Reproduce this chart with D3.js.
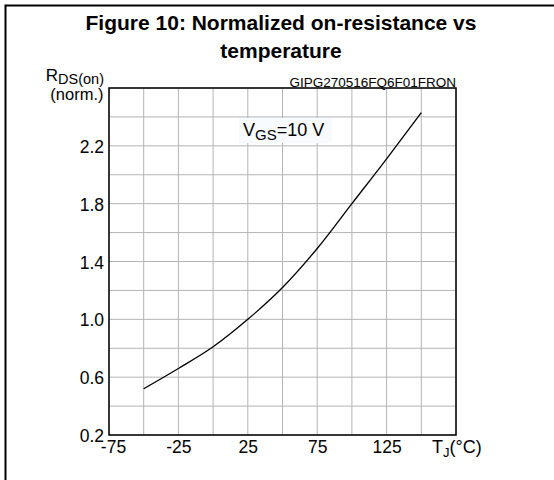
<!DOCTYPE html>
<html><head><meta charset="utf-8">
<script src="https://cdn.jsdelivr.net/npm/d3@7/dist/d3.min.js"></script>
<style>body{margin:0;background:#fff}svg{display:block}text{font-family:"Liberation Sans",Arial,sans-serif}</style>
</head><body>
<svg id="c" width="554" height="480"></svg>
<script>
const temps = [-50, -25, 0, 25, 50, 75, 100, 125, 150];
const rdson = [0.52, 0.66, 0.81, 1.0, 1.22, 1.49, 1.80, 2.11, 2.43];
const xTicks = [-75, -25, 25, 75, 125];
const yTicks = [0.2, 0.6, 1.0, 1.4, 1.8, 2.2];
const xGrid = d3.range(-75, 176, 25);
const yGrid = d3.range(0, 13).map(i => +(0.2 + i * 0.2).toFixed(1));

const svg = d3.select("#c");
const L = 109, R = 456, T = 88, B = 435;
const x = d3.scaleLinear().domain([-75, 175]).range([L, R]);
const y = d3.scaleLinear().domain([0.2, 2.6]).range([B, T]);

// frame
svg.append("path").attr("d", `M5.5,480 V5.5 H554`).attr("fill", "none").attr("stroke", "#000").attr("stroke-width", 2);

// title
svg.append("text").attr("x", 281).attr("y", 30).attr("text-anchor", "middle")
  .attr("font-size", 21).attr("font-weight", "bold").text("Figure 10: Normalized on-resistance vs");
svg.append("text").attr("x", 281).attr("y", 58).attr("text-anchor", "middle")
  .attr("font-size", 21).attr("font-weight", "bold").text("temperature");

// grid
const g = svg.append("g");
g.selectAll(".vx").data(xGrid).join("line").attr("x1", d => x(d)).attr("x2", d => x(d))
  .attr("y1", T).attr("y2", B).attr("stroke", "#b4b4b4").attr("stroke-width", 1);
g.selectAll(".hy").data(yGrid).join("line").attr("y1", d => y(d)).attr("y2", d => y(d))
  .attr("x1", L).attr("x2", R).attr("stroke", "#b4b4b4").attr("stroke-width", 1);

// VGS label
svg.append("rect").attr("x", 239).attr("y", 118).attr("width", 93).attr("height", 25).attr("fill", "#f7fbfe");
const vt = svg.append("text").attr("x", 243).attr("y", 136).attr("font-size", 18);
vt.append("tspan").text("V");
vt.append("tspan").attr("font-size", 15).attr("dy", 3.5).text("GS");
vt.append("tspan").attr("dy", -3.5).text("=10 V");

// plot border
svg.append("rect").attr("x", L).attr("y", T).attr("width", R - L).attr("height", B - T)
  .attr("fill", "none").attr("stroke", "#000").attr("stroke-width", 1.5);

// curve
const pts = temps.map((t, i) => [t, rdson[i]]);
svg.append("path").datum(pts)
  .attr("d", d3.line().x(d => x(d[0])).y(d => y(d[1])).curve(d3.curveMonotoneX))
  .attr("fill", "none").attr("stroke", "#000").attr("stroke-width", 1.3);

// axes labels
const xa = svg.append("g").attr("transform", `translate(0,${B})`)
  .call(d3.axisBottom(x).tickValues(xTicks).tickSize(0).tickFormat(d => String(d)));
xa.select(".domain").remove();
xa.selectAll("text").attr("font-size", 17.5).attr("fill", "#000")
  .attr("y", 17.5).attr("dy", 0).attr("dx", d => d === -75 ? 4 : 0);

const ya = svg.append("g").attr("transform", `translate(${L},0)`)
  .call(d3.axisLeft(y).tickValues(yTicks).tickSize(0).tickPadding(5).tickFormat(d => d.toFixed(1)));
ya.select(".domain").remove();
ya.selectAll("text").attr("font-size", 17.5).attr("fill", "#000").attr("dy", "0.38em");
ya.attr("font-size", null).attr("font-family", null);
xa.attr("font-size", null).attr("font-family", null);

// y title
const yt = svg.append("text").attr("x", 104).attr("y", 81).attr("text-anchor", "end").attr("font-size", 17);
yt.append("tspan").text("R");
yt.append("tspan").attr("font-size", 14.5).attr("dy", 3).text("DS(on)");
svg.append("text").attr("x", 103.5).attr("y", 100).attr("text-anchor", "end").attr("font-size", 16.5).text("(norm.)");

// code
svg.append("text").attr("x", R).attr("y", 86.5).attr("text-anchor", "end").attr("font-size", 13.5).text("GIPG270516FQ6F01FRON");

// x title
const xt = svg.append("text").attr("x", 432).attr("y", 453).attr("font-size", 18);
xt.append("tspan").text("T");
xt.append("tspan").attr("font-size", 13).attr("dy", 3.5).text("J");
xt.append("tspan").attr("dy", -3.5).text("(°C)");
</script>
</body></html>
